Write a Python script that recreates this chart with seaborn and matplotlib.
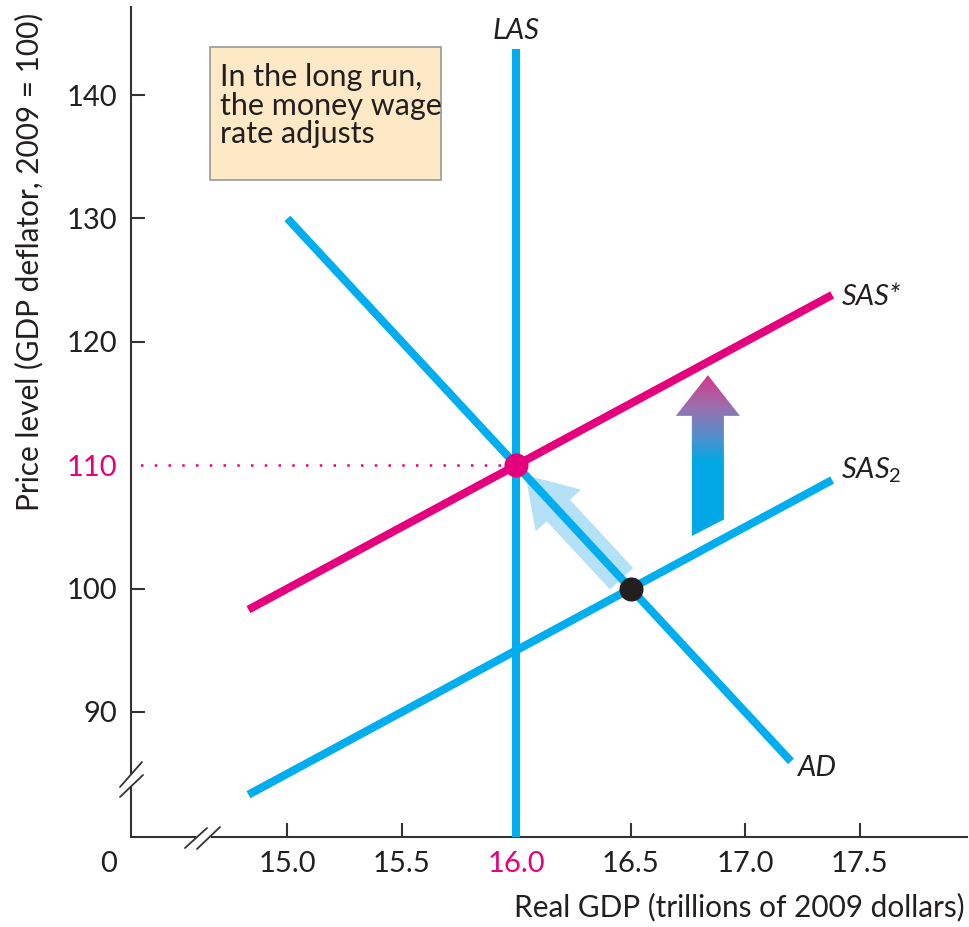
import numpy as np
import pandas as pd
import matplotlib.pyplot as plt
import seaborn as sns
from matplotlib.colors import LinearSegmentedColormap
from matplotlib.patches import Polygon, Rectangle
from matplotlib.lines import Line2D

BLUE = '#00aeef'
PINK = '#e5007e'
TEXT = '#231f20'

# curves (real GDP in trillions, price level)
las_x = [16.0, 16.0]
las_y = [79.0, 143.7]
ad_x = [15.0, 17.2]
ad_y = [130.0, 86.0]
sas_star_x = [14.83, 17.38]
sas_star_y = [98.3, 123.8]
sas2_x = [14.83, 17.38]
sas2_y = [83.3, 108.8]

# equilibrium points
new_eq = (16.0, 110.0)
old_eq = (16.5, 100.0)

x_ticks = [15.0, 15.5, 16.0, 16.5, 17.0, 17.5]
x_tick_labels = ['15.0', '15.5', '16.0', '16.5', '17.0', '17.5']
y_ticks = [90, 100, 110, 120, 130, 140]
y_tick_labels = ['90', '100', '110', '120', '130', '140']

sns.set_theme(style='white')
plt.rcParams['font.family'] = ['Lato', 'DejaVu Sans']
plt.rcParams['mathtext.fontset'] = 'custom'
plt.rcParams['mathtext.it'] = 'Lato:italic'
plt.rcParams['mathtext.rm'] = 'Lato'

fig = plt.figure(figsize=(9.7, 9.27), dpi=100)
ax = fig.add_axes([0.1351, 0.0971, 0.8618, 0.8953])

lw = 5.8
line_kw = dict(ax=ax, lw=lw, estimator=None, sort=False, solid_capstyle='butt')
sns.lineplot(x=las_x, y=las_y, color=BLUE, zorder=3, **line_kw)
sns.lineplot(x=sas2_x, y=sas2_y, color=BLUE, zorder=3, **line_kw)
sns.lineplot(x=sas_star_x, y=sas_star_y, color=PINK, zorder=4, **line_kw)

# movement along AD
ax.annotate('', xy=(16.04, 109.2), xytext=(16.46, 100.8),
            arrowprops=dict(arrowstyle='simple,head_length=2.9,head_width=3.7,tail_width=1.9',
                            color='#b5e1f7', lw=0, shrinkA=0, shrinkB=0), zorder=3.5)
sns.lineplot(x=ad_x, y=ad_y, color=BLUE, zorder=4, **line_kw)

# dotted guide at new price level
ax.plot([14.0, new_eq[0]], [new_eq[1], new_eq[1]], color=PINK, lw=1.8,
        ls=(0, (1, 4.5)), zorder=2)

ax.scatter([new_eq[0]], [new_eq[1]], s=300, color=PINK, zorder=6, lw=0)
ax.scatter([old_eq[0]], [old_eq[1]], s=300, color=TEXT, zorder=6, lw=0)

# gradient arrow: SAS shifts up
ax_c = 16.837
shaft = 0.07
head = 0.14
tip_y, base_y, tail_l, tail_r = 117.3, 114.0, 104.26, 105.6
verts = [(ax_c - shaft, tail_l), (ax_c - shaft, base_y), (ax_c - head, base_y),
         (ax_c, tip_y), (ax_c + head, base_y), (ax_c + shaft, base_y), (ax_c + shaft, tail_r)]
poly = Polygon(verts, closed=True, facecolor='none', edgecolor='none')
ax.add_patch(poly)
cmap = LinearSegmentedColormap.from_list('shift', [(0, '#00a9e6'), (0.46, '#00a9e6'),
                                                   (0.6, '#4a92cf'), (0.8, '#9a70ae'),
                                                   (1.0, '#d6378c')])
grad = np.linspace(0, 1, 256).reshape(-1, 1)
im = ax.imshow(grad, extent=[ax_c - head, ax_c + head, tail_l, tip_y], origin='lower',
               cmap=cmap, aspect='auto', zorder=3)
im.set_clip_path(poly)

ax.set_xlim(14.317, 17.969)
ax.set_ylim(79.87, 147.13)

# axes styling
for s in ['top', 'right']:
    ax.spines[s].set_visible(False)
for s in ['left', 'bottom']:
    ax.spines[s].set_color('#333333')
    ax.spines[s].set_linewidth(1.5)

ax.set_xticks(x_ticks)
ax.set_xticklabels(x_tick_labels)
ax.set_yticks(y_ticks)
ax.set_yticklabels(y_tick_labels)
ax.tick_params(direction='in', length=10, width=1.5, color='#333333', labelcolor=TEXT,
               labelsize=21, pad=10, bottom=True, left=True)
ax.get_xticklabels()[2].set_color(PINK)
ax.get_yticklabels()[2].set_color(PINK)
ax.yaxis.get_major_ticks()[2].tick1line.set_visible(False)
ax.set_xlabel('')
ax.set_ylabel('')

ax.annotate('0', xy=(0, 0), xycoords='axes fraction', xytext=(-10, -10),
            textcoords='offset points', ha='right', va='top', fontsize=21, color=TEXT)

# curve labels
ax.text(16.0, 145.2, 'LAS', style='italic', fontsize=21, color=TEXT, ha='center', va='center')
ax.text(17.42, 123.6, 'SAS*', style='italic', fontsize=21, color=TEXT, ha='left', va='center')
ax.text(17.42, 109.6, r'$\mathit{SAS}_2$', fontsize=21, color=TEXT, ha='left', va='center')
ax.text(17.23, 85.5, 'AD', style='italic', fontsize=21, color=TEXT, ha='left', va='center')

# note box
ax.add_patch(Rectangle((14.662, 133.1), 15.670 - 14.662, 143.9 - 133.1,
                       facecolor='#fde9c6', edgecolor='#999999', lw=1.2, zorder=5))
ax.text(14.706, 142.6, 'In the long run,\nthe money wage\nrate adjusts', fontsize=22,
        color=TEXT, ha='left', va='top', linespacing=1.03, zorder=6)

fig.text(29 / 970, 1 - 261.5 / 927, 'Price level (GDP deflator, 2009 = 100)', rotation=90,
         ha='center', va='center', fontsize=21.4, color=TEXT)
fig.text(965 / 970, 1 - 907 / 927, 'Real GDP (trillions of 2009 dollars)',
         ha='right', va='center', fontsize=21.4, color=TEXT)


# axis break marks (pixel positions)
def px(x, y):
    return x / 970, 1 - y / 927


for (x0, y0), (x1, y1) in [((131, 776), (131, 785)), ((198, 837), (209, 837))]:
    fig.add_artist(Line2D(*zip(px(x0, y0), px(x1, y1)), color='white', lw=3, zorder=10))
for (x0, y0), (x1, y1) in [((120, 787), (142, 762)), ((120, 797), (143, 775)),
                           ((185, 848), (207, 828)), ((197, 849), (220, 827))]:
    fig.add_artist(Line2D(*zip(px(x0, y0), px(x1, y1)), color='#333333', lw=1.3, zorder=11))

fig.savefig('out.png', dpi=100)
